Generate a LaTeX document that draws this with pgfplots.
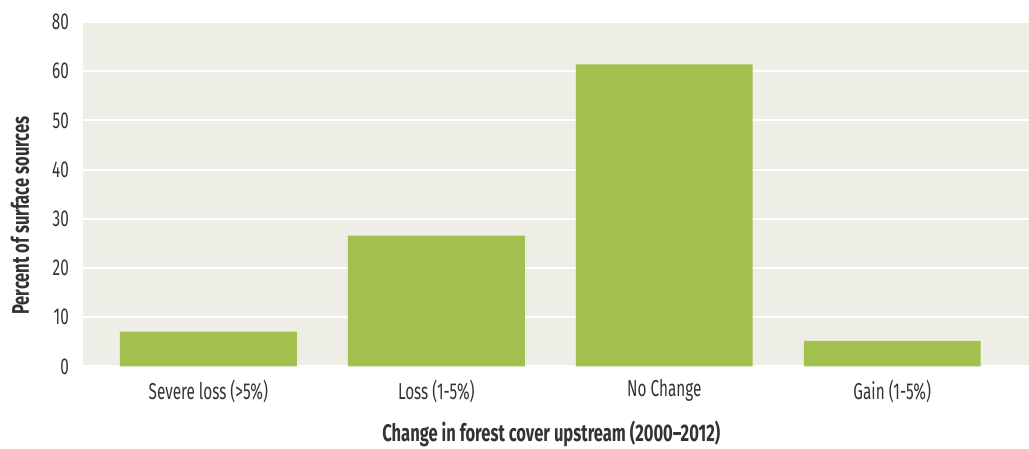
\documentclass[border=0pt]{standalone}
\usepackage{pgfplots}
\pgfplotsset{compat=1.18}
\usepackage{fontspec}
\setmainfont[FakeStretch=0.72]{Fira Sans}
\newfontfamily\tickfont[FakeStretch=0.665]{Fira Sans}
\newfontfamily\labfont[FakeStretch=0.69]{Fira Sans}
\definecolor{barc}{RGB}{161,192,77}
\definecolor{bgc}{RGB}{238,238,230}
\definecolor{txt}{RGB}{51,51,51}
\begin{document}
\begin{tikzpicture}[x=1pt,y=1pt]
\useasboundingbox (0,0) rectangle (1029,449);
\begin{axis}[at={(83pt,82.5pt)}, anchor=south west, scale only axis,
  width=946pt, height=344.5pt,
  xmin=-0.55, xmax=3.6, ymin=0, ymax=70,
  axis line style={draw=none},
  axis background/.style={fill=bgc},
  ytick={0,10,...,70}, yticklabels={0,10,20,30,40,50,60,80},
  xtick={0,1,2,3},
  xticklabels={Severe loss (>5\%), Loss (1-5\%), No Change, Gain (1-5\%)},
  major tick length=0pt,
  ymajorgrids, grid style={white, line width=2pt},
  /pgf/number format/assume math mode=true,
  tick label style={font=\tickfont\fontsize{23}{25}\selectfont, text=txt},
  yticklabel style={anchor=east, inner sep=0pt, xshift=-14pt},
  xticklabel style={anchor=north, inner sep=0pt, yshift=-13pt},
  xlabel={Change in forest cover upstream (2000–2012)},
  ylabel={Percent of surface sources},
  label style={font=\labfont\bfseries\fontsize{24}{26}\selectfont, text=txt},
  xlabel style={at={(rel axis cs:0.495,-0.196)}, anchor=center},
  ylabel style={at={(rel axis cs:-0.0666,0.438)}, anchor=center},
  ybar, bar width=0.776,
]
\addplot[fill=barc, draw=none] coordinates {(0,7.1) (1,26.6) (2,61.4) (3,5.2)};
\end{axis}
\end{tikzpicture}
\end{document}
